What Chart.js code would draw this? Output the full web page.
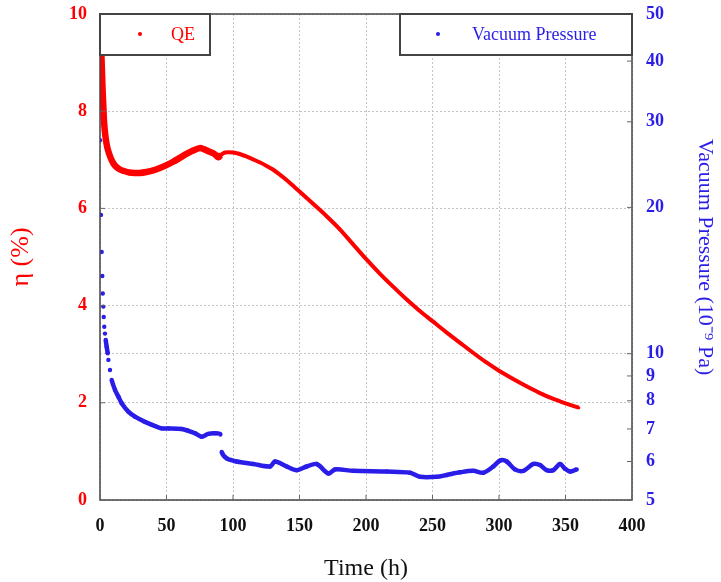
<!DOCTYPE html>
<html>
<head>
<meta charset="utf-8">
<script src="https://cdn.jsdelivr.net/npm/chart.js@4/dist/chart.umd.min.js"></script>
<style>
  body { margin: 0; background: #fff; }
  #wrap { width: 721px; height: 582px; }
</style>
</head>
<body>
<div id="wrap"><canvas id="qeChart" width="721" height="582"></canvas></div>
<script>
// QE (left axis, %)
const qeTime = [0, 0.5, 1, 1.5, 2, 2.5, 3, 4, 5, 6, 8, 10, 12, 15, 18, 22, 26, 30, 35, 40,
  45, 50, 55, 60, 65, 70, 75, 78, 82, 86, 89, 91, 94, 100, 105, 110, 115, 120, 125, 130,
  135, 140, 145, 150, 160, 170, 180, 190, 200, 210, 220, 230, 240, 250, 260, 270, 280, 290,
  300, 310, 320, 330, 340, 350, 360];
const qeValue = [10.0, 9.6, 9.2, 8.8, 8.4, 8.1, 7.8, 7.5, 7.32, 7.2, 7.04, 6.93, 6.86, 6.8, 6.77, 6.74, 6.73, 6.73, 6.75, 6.78,
  6.83, 6.89, 6.96, 7.04, 7.12, 7.19, 7.24, 7.22, 7.17, 7.12, 7.05, 7.1, 7.15, 7.15, 7.12, 7.07, 7.01, 6.95, 6.88, 6.8,
  6.7, 6.59, 6.47, 6.35, 6.1, 5.85, 5.58, 5.27, 4.96, 4.67, 4.4, 4.14, 3.9, 3.68, 3.46, 3.25, 3.04, 2.84,
  2.66, 2.5, 2.35, 2.21, 2.09, 1.99, 1.9];

// Vacuum pressure (right axis, 10^-9 Pa)
const pTime = [0, 0.75, 1.25, 1.75, 2.1, 2.5, 2.8, 3.2, 3.75, 4.3, 5, 5.8, 6.3, 7.5, 8.8, 11.3, 13.8, 16.3, 21.3, 26.3,
  33.8, 41.3, 46.4, 51.4, 61.4, 66.4, 71.4, 76.4, 81.4, 86.5, 90.5, 91.5, 95.3, 102.8, 115.3, 127.8, 131.6, 140.4, 147.9, 155.4,
  162.9, 171.7, 176.7, 190.4, 215.6, 233.1, 240.6, 253.2, 260.7, 270.7, 280.7, 288.2, 295.7, 301, 305.8, 312, 318.3, 325.8,
  330.8, 335.9, 340.8, 345.9, 349.6, 353.4, 358.4];
const pValue = [27.5, 19.3, 16.2, 14.45, 13.3, 12.5, 11.9, 11.36, 11.0, 10.67, 10.34, 10.02, 9.71, 9.26, 8.83, 8.42, 8.16, 7.91, 7.6, 7.42,
  7.24, 7.1, 7.02, 7.02, 7.0, 6.94, 6.86, 6.75, 6.84, 6.86, 6.82, 6.28, 6.09, 6.0, 5.93, 5.86, 6.0, 5.86, 5.76, 5.86,
  5.93, 5.67, 5.78, 5.74, 5.72, 5.69, 5.58, 5.58, 5.63, 5.7, 5.74, 5.69, 5.86, 6.03, 6.0, 5.78, 5.74, 5.93,
  5.9, 5.76, 5.76, 5.93, 5.8, 5.72, 5.78];

const xTicks = [0, 50, 100, 150, 200, 250, 300, 350, 400];
const leftTicks = [0, 2, 4, 6, 8, 10];
const rightTicks = [5, 6, 7, 8, 9, 10, 20, 30, 40, 50];

const RED = '#ff0000';
const BLUE = '#2b1de8';
const GRID = '#c4c4c4';
const SERIF = '"Liberation Serif", "Times New Roman", serif';

// Legend boxes + frame + inward tick marks
const framePlugin = {
  id: 'frame',
  afterDraw(chart) {
    const ctx = chart.ctx;
    const a = chart.chartArea;
    const sx = chart.scales.x, sl = chart.scales.y, sr = chart.scales.y1;
    ctx.save();
    ctx.strokeStyle = '#444';
    ctx.lineWidth = 1.5;
    ctx.strokeRect(a.left, a.top, a.right - a.left, a.bottom - a.top);

    ctx.lineWidth = 1;
    ctx.strokeStyle = '#666';
    ctx.beginPath();
    xTicks.forEach(v => {
      const px = sx.getPixelForValue(v);
      ctx.moveTo(px, a.bottom); ctx.lineTo(px, a.bottom - 5);
    });
    leftTicks.forEach(v => {
      const py = sl.getPixelForValue(v);
      ctx.moveTo(a.left, py); ctx.lineTo(a.left + 5, py);
    });
    rightTicks.forEach(v => {
      const py = sr.getPixelForValue(v);
      ctx.moveTo(a.right, py); ctx.lineTo(a.right - 5, py);
    });
    ctx.stroke();

    // legend boxes
    const boxes = [
      { ds: 0, x: a.left, w: 110, dot: 40, text: 71 },
      { ds: 1, x: 400, w: a.right - 400, dot: 38, text: 72 }
    ];
    boxes.forEach(b => {
      const ds = chart.data.datasets[b.ds];
      ctx.fillStyle = '#fff';
      ctx.fillRect(b.x, a.top, b.w, 41);
      ctx.strokeStyle = '#444';
      ctx.lineWidth = 2;
      ctx.strokeRect(b.x, a.top, b.w, 41);
      ctx.fillStyle = ds.borderColor;
      ctx.beginPath();
      ctx.arc(b.x + b.dot, a.top + 20, 2, 0, Math.PI * 2);
      ctx.fill();
      ctx.font = '18px ' + SERIF;
      ctx.textBaseline = 'middle';
      ctx.textAlign = 'left';
      ctx.fillText(ds.label, b.x + b.text, a.top + 21);
    });
    ctx.restore();
  }
};

// leave a gap where the pressure jumps or the first readings are sparse
const hideJumps = (color) => ctx => {
  const dx = Math.abs(ctx.p1.x - ctx.p0.x);
  const dy = Math.abs(ctx.p1.y - ctx.p0.y);
  return dy > 3 * dx + 4 ? 'transparent' : color;
};
const earlyThick = (wide, narrow) => ctx =>
  ctx.p1.parsed.x < 93 ? wide : narrow;

const fitVertical = w => s => { s.width = w; s.paddingTop = 0; s.paddingBottom = 0; };

document.addEventListener('DOMContentLoaded', function() {
  const ctx = document.getElementById('qeChart').getContext('2d');

  new Chart(ctx, {
    type: 'line',
    data: {
      datasets: [
        {
          label: 'QE',
          data: qeTime.map((t, i) => ({ x: t, y: qeValue[i] })),
          yAxisID: 'y',
          borderColor: RED,
          backgroundColor: RED,
          borderWidth: 4,
          pointRadius: 1.5,
          pointBorderWidth: 0,
          tension: 0.3,
          segment: { borderWidth: earlyThick(6.5, 4) }
        },
        {
          label: 'Vacuum Pressure',
          data: pTime.map((t, i) => ({ x: t, y: pValue[i] })),
          yAxisID: 'y1',
          borderColor: BLUE,
          backgroundColor: BLUE,
          borderWidth: 4.5,
          pointRadius: 2.2,
          pointBorderWidth: 0,
          tension: 0.3,
          segment: { borderColor: hideJumps(BLUE) }
        }
      ]
    },
    options: {
      responsive: false,
      animation: false,
      layout: { padding: { top: 14, left: 0, right: 0, bottom: 0 } },
      plugins: {
        legend: { display: false },
        tooltip: { enabled: false }
      },
      scales: {
        x: {
          type: 'linear',
          min: 0,
          max: 400,
          afterBuildTicks: s => { s.ticks = xTicks.map(v => ({ value: v })); },
          afterFit: s => { s.height = 82; s.paddingLeft = 0; s.paddingRight = 0; },
          ticks: {
            color: '#111',
            padding: 16,
            maxRotation: 0,
            font: { family: SERIF, size: 18, weight: 'bold' }
          },
          grid: { color: GRID, drawTicks: false },
          border: { display: false, dash: [2, 2] },
          title: {
            display: true,
            text: 'Time (h)',
            color: '#111',
            padding: 0,
            font: { family: SERIF, size: 24, lineHeight: 1.1 }
          }
        },
        y: {
          position: 'left',
          min: 0,
          max: 10,
          afterBuildTicks: s => { s.ticks = leftTicks.map(v => ({ value: v })); },
          afterFit: fitVertical(100),
          ticks: {
            color: RED,
            padding: 13,
            font: { family: SERIF, size: 18, weight: 'bold' }
          },
          grid: { color: GRID, drawTicks: false },
          border: { display: false, dash: [2, 2] },
          title: {
            display: true,
            text: 'η (%)',
            color: RED,
            padding: { top: 6, bottom: 0 },
            font: { family: SERIF, size: 26, lineHeight: 1.2 }
          }
        },
        y1: {
          type: 'logarithmic',
          position: 'right',
          min: 5,
          max: 50,
          afterBuildTicks: s => { s.ticks = rightTicks.map(v => ({ value: v })); },
          afterFit: fitVertical(89),
          ticks: {
            color: BLUE,
            padding: 14,
            autoSkip: false,
            callback: v => String(v),
            font: { family: SERIF, size: 18, weight: 'bold' }
          },
          grid: {
            drawTicks: false,
            color: c => (c.tick && c.tick.value === 10) ? GRID : 'transparent'
          },
          border: { display: false, dash: [2, 2] },
          title: {
            display: true,
            text: 'Vacuum Pressure (10⁻⁹ Pa)',
            color: BLUE,
            padding: { top: 3, bottom: 0 },
            font: { family: SERIF, size: 22, lineHeight: 1.2 }
          }
        }
      }
    },
    plugins: [framePlugin]
  });
});
</script>
</body>
</html>
